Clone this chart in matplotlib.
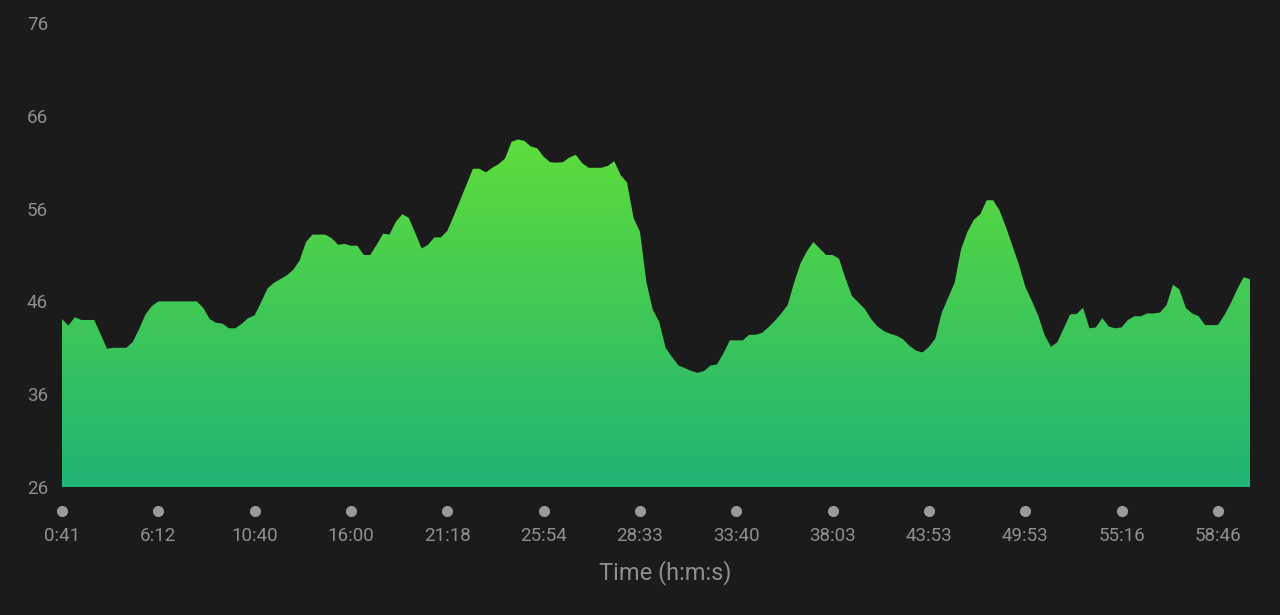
import matplotlib
matplotlib.use("Agg")
import matplotlib.pyplot as plt
import numpy as np
from matplotlib.colors import LinearSegmentedColormap

# values sampled along the x axis (one sample per step)
values = [
    44.1, 43.4, 44.3, 44.0, 44.0, 44.0, 42.5, 40.9, 41.0, 41.0,
    41.0, 41.6, 43.0, 44.6, 45.5, 46.0, 46.0, 46.0, 46.0, 46.0,
    46.0, 46.0, 45.3, 44.1, 43.7, 43.6, 43.1, 43.1, 43.6, 44.2,
    44.5, 45.9, 47.4, 48.0, 48.4, 48.8, 49.4, 50.4, 52.4, 53.2,
    53.2, 53.2, 52.8, 52.1, 52.2, 52.0, 52.0, 51.0, 51.0, 52.1,
    53.3, 53.2, 54.6, 55.4, 55.0, 53.4, 51.7, 52.1, 52.9, 52.9,
    53.6, 55.2, 56.9, 58.6, 60.3, 60.3, 59.9, 60.4, 60.8, 61.4,
    63.2, 63.45, 63.3, 62.7, 62.5, 61.6, 61.0, 60.95, 61.0, 61.5,
    61.8, 60.9, 60.4, 60.4, 60.4, 60.6, 61.1, 59.6, 58.8, 55.0,
    53.5, 48.1, 45.1, 43.8, 41.0, 40.0, 39.1, 38.8, 38.5, 38.3,
    38.5, 39.1, 39.2, 40.4, 41.8, 41.8, 41.8, 42.4, 42.4, 42.6,
    43.2, 43.9, 44.7, 45.6, 48.0, 50.1, 51.4, 52.4, 51.7, 51.0,
    51.0, 50.6, 48.5, 46.6, 45.9, 45.2, 44.1, 43.3, 42.8, 42.5,
    42.3, 41.9, 41.2, 40.7, 40.5, 41.1, 42.0, 44.8, 46.4, 48.0,
    51.6, 53.5, 54.8, 55.4, 56.9, 56.9, 55.8, 54.0, 52.0, 50.0,
    47.6, 46.1, 44.5, 42.4, 41.1, 41.6, 43.1, 44.6, 44.65, 45.3,
    43.1, 43.2, 44.2, 43.3, 43.1, 43.2, 44.0, 44.4, 44.4, 44.7,
    44.7, 44.8, 45.6, 47.8, 47.3, 45.3, 44.7, 44.4, 43.45, 43.45,
    43.45, 44.5, 45.8, 47.3, 48.6, 48.4,
]
tick_labels = ["0:41", "6:12", "10:40", "16:00", "21:18", "25:54", "28:33",
               "33:40", "38:03", "43:53", "49:53", "55:16", "58:46"]
y_ticks = [26, 36, 46, 56, 66, 76]

bg = "#1b1b1b"
txt = "#8f8f8f"
plt.rcParams['font.family'] = ['Roboto', 'DejaVu Sans']

x = np.arange(len(values))
y = np.array(values)

fig = plt.figure(figsize=(12.8, 6.15), dpi=100, facecolor=bg)
ax = fig.add_axes([62/1280, (615-487)/615, (1250-62)/1280, (487-23)/615])
ax.set_facecolor(bg)

# gradient fill clipped to the area
cmap = LinearSegmentedColormap.from_list("g", ["#21b475", "#3fc857", "#5edd3b"])
poly = ax.fill_between(x, 26, y, color="none", lw=0)
grad = np.linspace(0, 1, 256).reshape(-1, 1)
im = ax.imshow(grad, extent=[x[0], x[-1], 26, y.max()], origin="lower",
               aspect="auto", cmap=cmap, zorder=2)
path = poly.get_paths()[0]
im.set_clip_path(path, transform=ax.transData)

ax.set_xlim(x[0], x[-1])
ax.set_ylim(26, 76)
ax.set_yticks(y_ticks)
ax.set_yticklabels([str(v) for v in y_ticks])

tick_pos = np.arange(0, 15 * len(tick_labels), 15)
ax.set_xticks(tick_pos)
ax.set_xticklabels(tick_labels)
ax.tick_params(axis="both", length=0, colors=txt, labelsize=13.5)
ax.tick_params(axis="x", pad=29)
ax.tick_params(axis="y", pad=10)

# dots above the tick labels
ax.plot(tick_pos, [-0.052] * len(tick_pos), "o", ms=8, color="#9a9a9a",
        transform=ax.get_xaxis_transform(), clip_on=False, mec="none")

for s in ax.spines.values():
    s.set_visible(False)

ax.set_xlabel("Time (h:m:s)", color=txt, fontsize=17)
ax.xaxis.set_label_coords(0.508, -0.158)

fig.savefig("out.png", dpi=100, facecolor=bg)
